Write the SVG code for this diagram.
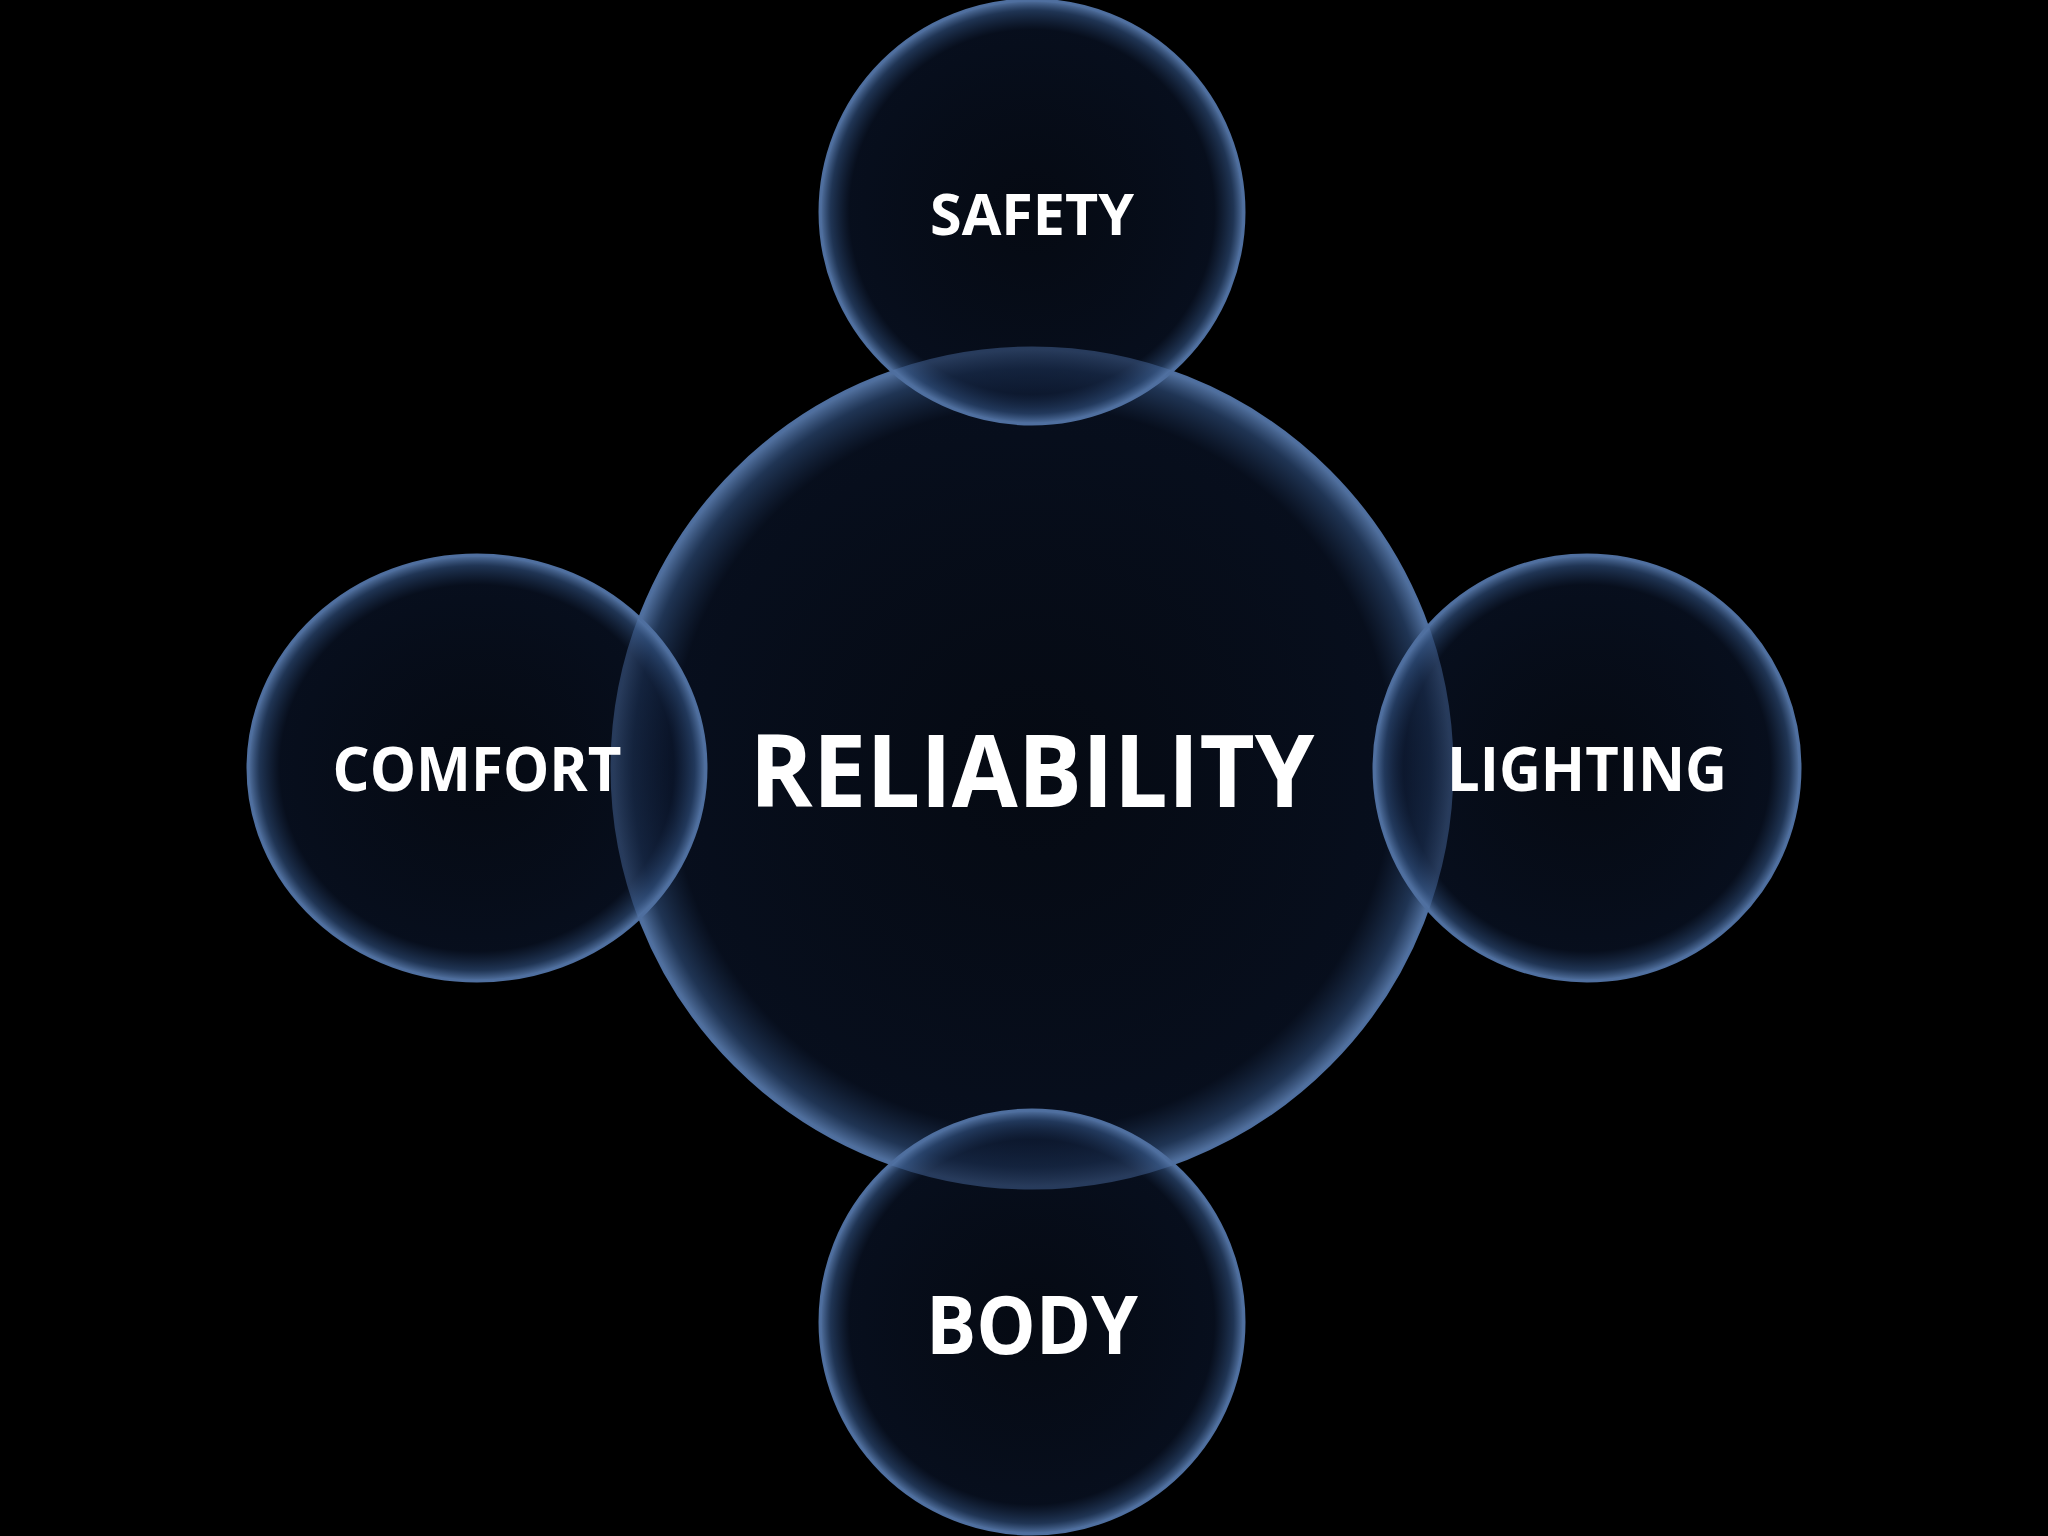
<svg xmlns="http://www.w3.org/2000/svg" width="2048" height="1536" viewBox="0 0 2048 1536">
<defs>
<radialGradient id="bub" cx="50%" cy="50%" r="50%">
<stop offset="0" stop-color="#0a1222" stop-opacity="0.55"/>
<stop offset="0.86" stop-color="#0c1830" stop-opacity="0.6"/>
<stop offset="0.95" stop-color="#2a4670" stop-opacity="0.75"/>
<stop offset="1" stop-color="#5a7cae" stop-opacity="0.95"/>
</radialGradient>
<style>
.b{fill:url(#bub);stroke:#4f6f9f;stroke-width:3}
.t{font-family:"Open Sans","Liberation Sans",sans-serif;font-weight:bold;fill:#ffffff;text-anchor:middle;dominant-baseline:central}
</style>
</defs>
<rect width="2048" height="1536" fill="#000000"/>
<g id="reliability"><circle class="b" cx="1032" cy="768" r="420"/><text class="t" x="1032" y="768" font-size="100" textLength="565" lengthAdjust="spacingAndGlyphs">RELIABILITY</text></g>
<g id="safety"><circle class="b" cx="1032" cy="212" r="212"/><text class="t" x="1032" y="212" font-size="58" textLength="204" lengthAdjust="spacingAndGlyphs">SAFETY</text></g>
<g id="body"><circle class="b" cx="1032" cy="1322" r="212"/><text class="t" x="1032" y="1322" font-size="80" textLength="212" lengthAdjust="spacingAndGlyphs">BODY</text></g>
<g id="comfort"><ellipse class="b" cx="477" cy="768" rx="229" ry="213"/><text class="t" x="477" y="768" font-size="60" textLength="289" lengthAdjust="spacingAndGlyphs">COMFORT</text></g>
<g id="lighting"><circle class="b" cx="1587" cy="768" r="213"/><text class="t" x="1587" y="768" font-size="60" textLength="280" lengthAdjust="spacingAndGlyphs">LIGHTING</text></g>
<g id="connectors"/>
</svg>
